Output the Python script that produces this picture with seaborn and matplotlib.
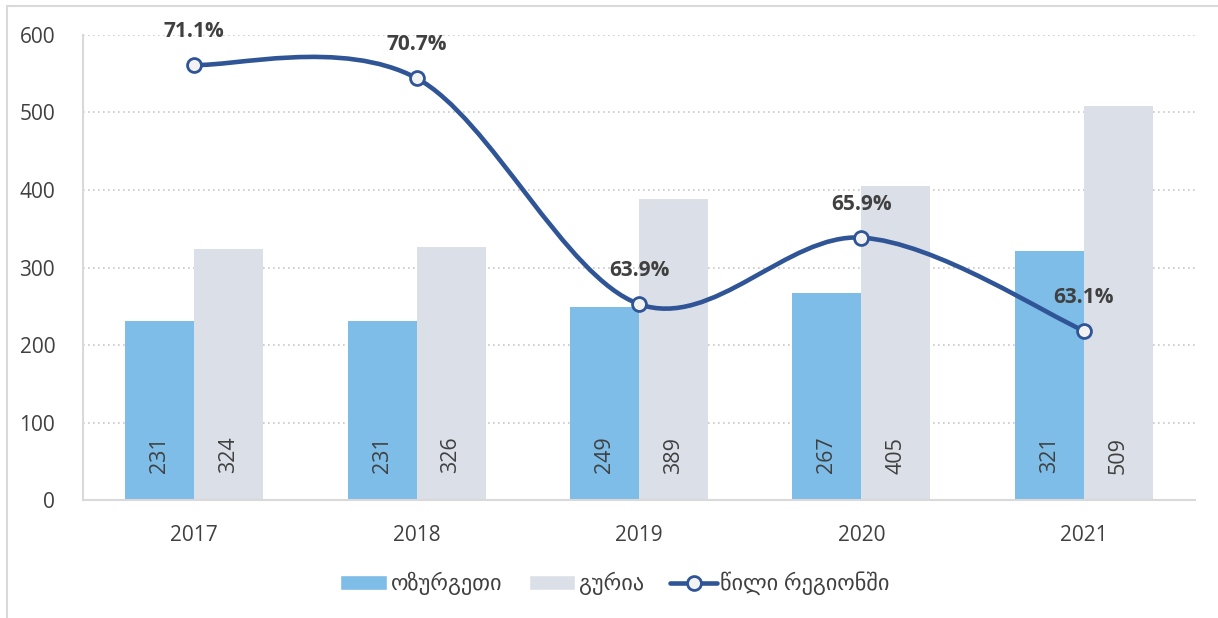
import matplotlib
matplotlib.use('Agg')
import matplotlib.pyplot as plt
import seaborn as sns
import pandas as pd
import numpy as np
from matplotlib.path import Path
from matplotlib.patches import PathPatch, Rectangle, Patch
from matplotlib.lines import Line2D

# data
years = ['2017', '2018', '2019', '2020', '2021']
ozurgeti = [231, 231, 249, 267, 321]
guria = [324, 326, 389, 405, 509]
share = [71.1, 70.7, 63.9, 65.9, 63.1]
series_names = ['ოზურგეთი', 'გურია', 'წილი რეგიონში']

bar_colors = ['#7dbde8', '#dbe0e8']
line_color = '#2f5597'
text_color = '#404040'

sns.set_theme(style='white')
plt.rcParams['font.family'] = ['Open Sans', 'DejaVu Sans']

df = pd.DataFrame({
    'year': years * 2,
    'value': ozurgeti + guria,
    'region': [series_names[0]] * len(years) + [series_names[1]] * len(years),
})

fig = plt.figure(figsize=(12.18, 6.18), dpi=100)
ax = fig.add_axes([0.0681, 0.1909, 0.9130, 0.7525])

sns.barplot(data=df, x='year', y='value', hue='region', palette=bar_colors,
            width=0.62, gap=0, saturation=1, linewidth=0, ax=ax, legend=False)

ax.set_xlim(-0.5, 4.5)
ax.set_ylim(0, 600)
ax.set_yticks(range(0, 601, 100))
ax.set_xlabel('')
ax.set_ylabel('')
ax.tick_params(axis='both', length=0, labelsize=15, labelcolor=text_color)
ax.tick_params(axis='y', pad=20)
ax.tick_params(axis='x', pad=18)
ax.yaxis.grid(True, linestyle=(0, (1, 2)), color='#c8c8c8', linewidth=1.2)
ax.set_axisbelow(True)
for side in ['top', 'right']:
    ax.spines[side].set_visible(False)
for side in ['left', 'bottom']:
    ax.spines[side].set_color('#d9d9d9')
    ax.spines[side].set_linewidth(1.5)

# bar value labels (rotated, near the base)
for i in range(len(years)):
    ax.text(i - 0.155, 58, str(ozurgeti[i]), rotation=90, ha='center', va='center',
            fontsize=15.5, color=text_color)
    ax.text(i + 0.155, 58, str(guria[i]), rotation=90, ha='center', va='center',
            fontsize=15.5, color=text_color)

# share line on hidden secondary axis, smoothed with Catmull-Rom Bezier segments
ax2 = ax.twinx()
ax2.set_ylim(58, 72)
ax2.set_yticks([])
for side in ax2.spines:
    ax2.spines[side].set_visible(False)

pts = np.column_stack([np.arange(len(share)), share]).astype(float)
verts = [pts[0]]
codes = [Path.MOVETO]
for i in range(len(pts) - 1):
    p_prev = pts[i - 1] if i > 0 else pts[i]
    p_next2 = pts[i + 2] if i + 2 < len(pts) else pts[i + 1]
    c1 = pts[i] + (pts[i + 1] - p_prev) / 6
    c2 = pts[i + 1] - (p_next2 - pts[i]) / 6
    verts += [c1, c2, pts[i + 1]]
    codes += [Path.CURVE4] * 3
ax2.add_patch(PathPatch(Path(verts, codes), facecolor='none', edgecolor=line_color,
                        linewidth=3.3, capstyle='round', zorder=3))
ax2.plot(range(len(share)), share, linestyle='none', marker='o', markersize=10,
         markerfacecolor='#f2f2f2', markeredgecolor=line_color, markeredgewidth=2,
         zorder=4)
for i, v in enumerate(share):
    ax2.annotate(f'{v}%', (i, v), xytext=(0, 24), textcoords='offset points',
                 ha='center', va='center', fontsize=15, fontweight='bold',
                 color=text_color)

# legend
handles = [
    Patch(facecolor=bar_colors[0]),
    Patch(facecolor=bar_colors[1]),
    Line2D([], [], color=line_color, linewidth=3.3, marker='o', markersize=10,
           markerfacecolor='#f2f2f2', markeredgecolor=line_color, markeredgewidth=2),
]
fig.legend(handles, series_names, loc='center', bbox_to_anchor=(0.505, 0.056),
           ncol=3, frameon=False, fontsize=16, handlelength=2.1, handleheight=0.65,
           columnspacing=1.2, handletextpad=0.15, labelcolor=text_color)

# chart frame
fig.patches.append(Rectangle((7 / 1218, -0.05), 1.2, 1 - 6 / 618 + 0.05,
                             transform=fig.transFigure, fill=False,
                             edgecolor='#d9d9d9', linewidth=1.5))

fig.savefig('out.png', dpi=100)
